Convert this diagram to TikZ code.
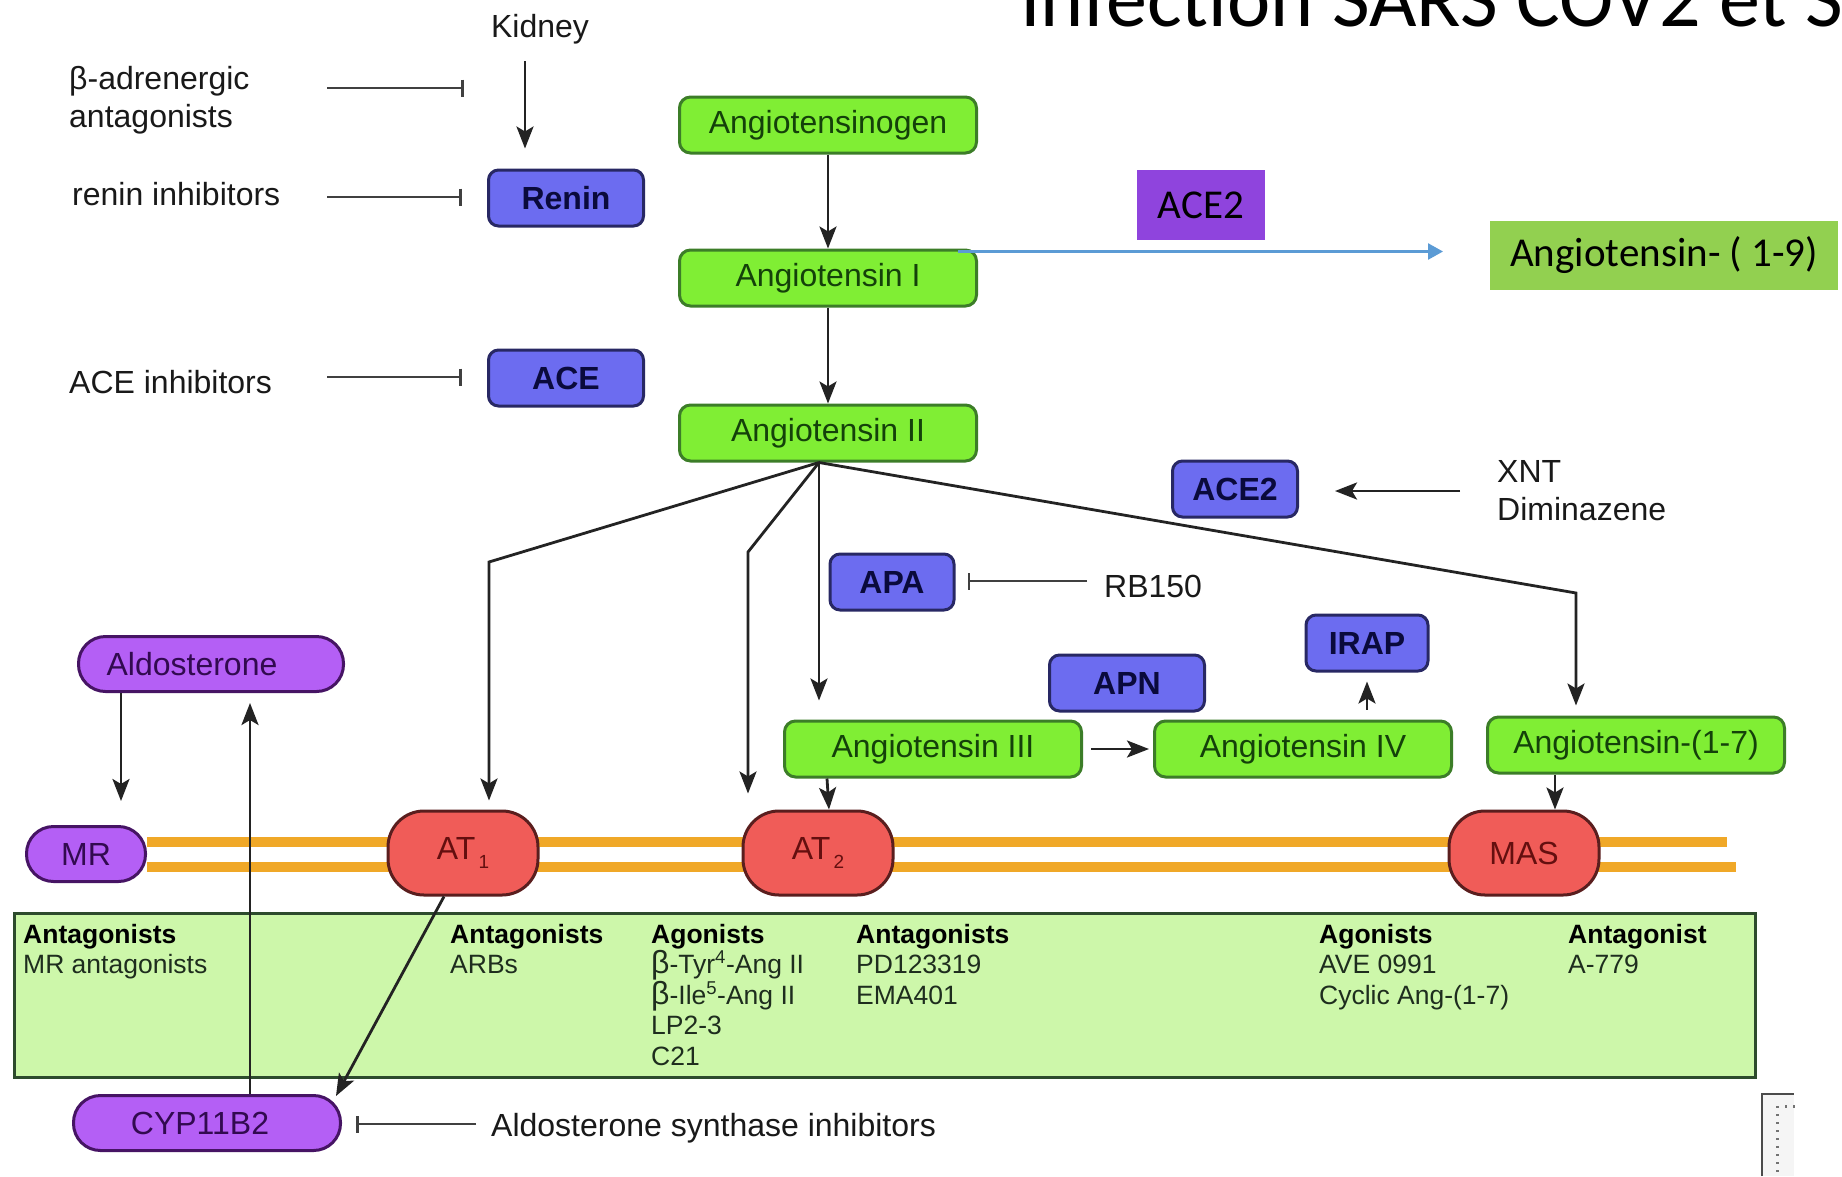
\documentclass[tikz,border=0pt]{standalone}
\usepackage{fontspec}
\setmainfont{Liberation Sans}
\newfontfamily\calibrifont{Carlito}
\usetikzlibrary{arrows.meta,calc}
\definecolor{grnfill}{RGB}{128,238,52}
\definecolor{grnline}{RGB}{60,125,40}
\definecolor{grntext}{RGB}{20,65,10}
\definecolor{blufill}{RGB}{108,108,240}
\definecolor{bluline}{RGB}{40,40,100}
\definecolor{blutext}{RGB}{10,10,60}
\definecolor{purfill}{RGB}{180,95,245}
\definecolor{purline}{RGB}{70,20,100}
\definecolor{purtext}{RGB}{50,10,80}
\definecolor{redfill}{RGB}{240,92,88}
\definecolor{redline}{RGB}{90,30,30}
\definecolor{redtext}{RGB}{100,15,15}
\definecolor{membcol}{RGB}{240,168,40}
\definecolor{boxfill}{RGB}{205,247,170}
\definecolor{boxline}{RGB}{45,75,45}
\definecolor{boxtext}{RGB}{30,45,30}
\definecolor{acepurple}{RGB}{143,68,221}
\definecolor{offgreen}{RGB}{146,208,80}
\definecolor{arrblue}{RGB}{91,155,213}
\definecolor{linecol}{RGB}{35,35,35}
\begin{document}
\begin{tikzpicture}[x=1pt,y=-1pt,
  base/.style={inner sep=0pt, line width=3pt, font=\fontsize{32}{38}\selectfont},
  gbox/.style={base, draw=grnline, fill=grnfill, text=grntext, rounded corners=11pt, minimum width=297pt, minimum height=56pt},
  bbox/.style={base, draw=bluline, fill=blufill, text=blutext, rounded corners=10pt, minimum height=56pt, font=\bfseries\fontsize{32}{38}\selectfont},
  pbox/.style={base, draw=purline, fill=purfill, text=purtext, rounded corners=27pt, minimum height=55pt},
  rbox/.style={base, draw=redline, fill=redfill, text=redtext, rounded corners=36pt, minimum width=150pt, minimum height=84pt},
  lbl/.style={inner sep=0pt, anchor=base west, font=\fontsize{32}{38}\selectfont, text=black!90},
  bx/.style={inner sep=0pt, anchor=base west, font=\fontsize{26.5}{30}\selectfont, text=boxtext},
  bh/.style={bx, font=\bfseries\fontsize{26.5}{30}\selectfont, text=black},
  arr/.style={draw=linecol, line width=2.8pt, -{Stealth[length=22pt,width=17pt,inset=5pt]}},
  inh/.style={draw=black!75, line width=2.8pt, -{Bar[width=17pt,line width=2.8pt]}},
  barrow/.style={draw=arrblue, line width=2.5pt, -{Triangle[length=15pt,width=16pt]}},
  memb/.style={draw=membcol, line width=10pt}
]
\useasboundingbox (0,0) rectangle (1842,1176);
\clip (0,0) rectangle (1842,1176);
\fill[white] (0,0) rectangle (1842,1176);

% title
\node[inner sep=0pt, anchor=base west, font=\calibrifont\fontsize{82}{90}\selectfont] (title) at (1020,26) {Infection SARS COV2 et S};

% big green box
\node[draw=boxline, fill=boxfill, line width=3pt, inner sep=0pt, anchor=north west, minimum width=1741pt, minimum height=164pt] (bigbox) at (13,912) {};

% membrane
\node[pbox, minimum width=119pt, draw=none, fill=none] (mrpos) at (86,854) {};
\draw[memb] (mrpos.east |- 0,842) -- (1727,842);
\draw[memb] (mrpos.east |- 0,867) -- (1736,867);

% green nodes
\node[gbox] (ago) at (828,125) {Angiotensinogen};
\node[gbox] (a1) at (828,278) {Angiotensin I};
\node[gbox] (a2) at (828,433) {Angiotensin II};
\node[gbox] (a3) at (933,749) {Angiotensin III};
\node[gbox] (a4) at (1303,749) {Angiotensin IV};
\node[gbox] (a17) at (1636,745) {Angiotensin-(1-7)};

% blue nodes
\node[bbox, minimum width=155pt] (renin) at (566,198) {Renin};
\node[bbox, minimum width=155pt] (ace) at (566,378) {ACE};
\node[bbox, minimum width=125pt] (ace2b) at (1235,489) {ACE2};
\node[bbox, minimum width=124pt] (apa) at (892,582) {APA};
\node[bbox, minimum width=155pt] (apn) at (1127,683) {APN};
\node[bbox, minimum width=122pt] (irap) at (1367,643) {IRAP};

% purple nodes
\node[pbox, minimum width=265pt] (ald) at (211,664) {Aldosterone\hspace*{38pt}};
\node[pbox, minimum width=119pt] (mr) at (86,854) {MR};
\node[pbox, minimum width=267pt] (cyp) at (207,1123) {CYP11B2\hspace*{14pt}};

% receptors
\node[rbox] (at1) at (463,853) {AT\raisebox{-9pt}{\fontsize{19}{19}\selectfont\,1}};
\node[rbox] (at2) at (818,853) {AT\raisebox{-9pt}{\fontsize{19}{19}\selectfont\,2}};
\node[rbox] (mas) at (1524,853) {MAS};

% ACE2 (purple square) and Angiotensin-(1-9)
\node[fill=acepurple, minimum width=128pt, minimum height=70pt, inner sep=0pt, font=\calibrifont\fontsize{41}{46}\selectfont] (ace2p) at (1201,205) {ACE2};
\node[fill=offgreen, anchor=west, minimum height=69pt, inner xsep=20pt, inner ysep=0pt, font=\calibrifont\fontsize{41}{46}\selectfont] (a19) at (1490,255.5) {Angiotensin- ( 1-9)};

% labels
\node[inner sep=0pt, anchor=base, font=\fontsize{32}{38}\selectfont, text=black!90] (kid) at (540,37) {Kidney};
\node[lbl] (beta1) at (69,89) {β-adrenergic};
\node[lbl] (beta2) at (69,127) {antagonists};
\node[lbl] (renininh) at (72,205) {renin inhibitors};
\node[lbl] (aceinh) at (69,393) {ACE inhibitors};
\node[lbl] (xnt) at (1497,482) {XNT};
\node[lbl] (dimin) at (1497,520) {Diminazene};
\node[lbl] (rb) at (1104,597) {RB150};
\node[lbl] (asi) at (491,1136) {Aldosterone synthase inhibitors};

% box texts
\node[bh] (c1h) at (23,943) {Antagonists};
\node[bx] (c1a) at (23,973) {MR antagonists};
\node[bh] (c2h) at (450,943) {Antagonists};
\node[bx] (c2a) at (450,973) {ARBs};
\node[bh] (c3h) at (651,943) {Agonists};
\node[bx] (c3a) at (651,973) {{\fontsize{32}{32}\selectfont β}-Tyr\textsuperscript{4}-Ang II};
\node[bx] (c3b) at (651,1004) {{\fontsize{32}{32}\selectfont β}-Ile\textsuperscript{5}-Ang II};
\node[bx] (c3c) at (651,1034) {LP2-3};
\node[bx] (c3d) at (651,1065) {C21};
\node[bh] (c4h) at (856,943) {Antagonists};
\node[bx] (c4a) at (856,973) {PD123319};
\node[bx] (c4b) at (856,1004) {EMA401};
\node[bh] (c5h) at (1319,943) {Agonists};
\node[bx] (c5a) at (1319,973) {AVE 0991};
\node[bx] (c5b) at (1319,1004) {Cyclic Ang-(1-7)};
\node[bh] (c6h) at (1568,943) {Antagonist};
\node[bx] (c6a) at (1568,973) {A-779};

% coordinates
\coordinate (kx) at (525,61);
\coordinate (ib1) at (327,88);
\coordinate (ib1e) at (464,88);
\coordinate (ib2) at (327,197);
\coordinate (ib3) at (327,377);
\coordinate (hub) at ($(a2.south)+(-9,0)$);
\coordinate (k1) at (489,562);
\coordinate (k2) at (748,552);
\coordinate (k4) at (1576,593);
\coordinate (xs) at (1460,491);
\coordinate (rs) at (1087,581);
\coordinate (mx) at (121,0);
\coordinate (cx) at (250,0);
\coordinate (cs) at (476,1124);
\coordinate (bs) at ($(a1.north east)+(-20,3)$);

% connectors
\draw[arr, shorten >=20pt] (kx) -- (kx |- renin.north);
\draw[inh] (ib1) -- (ib1e);
\draw[inh, shorten >=25pt] (ib2) -- (ib2 -| renin.west);
\draw[inh, shorten >=25pt] (ib3) -- (ib3 -| ace.west);
\draw[arr] (ago.south) -- (a1.north);
\draw[arr] (a1.south) -- (a2.north);
\draw[arr, shorten >=9pt] (hub) -- (k1) -- (k1 |- at1.north);
\draw[arr, shorten >=16pt] (hub) -- (k2) -- (k2 |- at2.north);
\draw[arr, shorten >=19pt] (hub) -- (hub |- a3.north);
\draw[arr, shorten >=10pt] (hub) -- (k4) -- (k4 |- a17.north);
\draw[arr] ($(a3.south west)+(44,0)$) -- ($(at2.north)+(11,0)$);
\draw[arr] ($(a17.south)+(-81,0)$) -- ($(mas.north)+(31,0)$);
\draw[arr, shorten <=8pt, shorten >=4pt] (a3.east) -- (a4.west);
\draw[arr, shorten <=10pt, shorten >=9pt] (irap.south |- a4.north) -- (irap.south);
\draw[arr, shorten >=36pt] (xs) -- (xs -| ace2b.east);
\draw[inh, shorten >=12pt] (rs) -- (rs -| apa.east);
\draw[arr, shorten >=24pt] (mx |- ald.south) -- (mx |- mr.north);
\draw[arr, shorten >=10pt] (cx |- cyp.north) -- (cx |- ald.south);
\draw[arr] ($(at1.south)+(-19,0)$) -- ($(cyp.north east)+(-6,2)$);
\draw[inh, shorten >=14pt] (cs) -- (cs -| cyp.east);
\draw[barrow, shorten >=47pt] (bs) -- (bs -| a19.west);

% slide fragment at bottom right
\fill[black!4] (1762,1094) rectangle (1794,1176);
\draw[black!70, line width=2pt] (1762,1176) -- (1762,1094) -- (1794,1094);
\draw[black!55, line width=3pt, dash pattern=on 2pt off 6pt] (1777,1106) -- (1777,1176);
\draw[black!55, line width=3pt, dash pattern=on 2pt off 6pt] (1785,1106) -- (1796,1106);
\end{tikzpicture}
\end{document}
